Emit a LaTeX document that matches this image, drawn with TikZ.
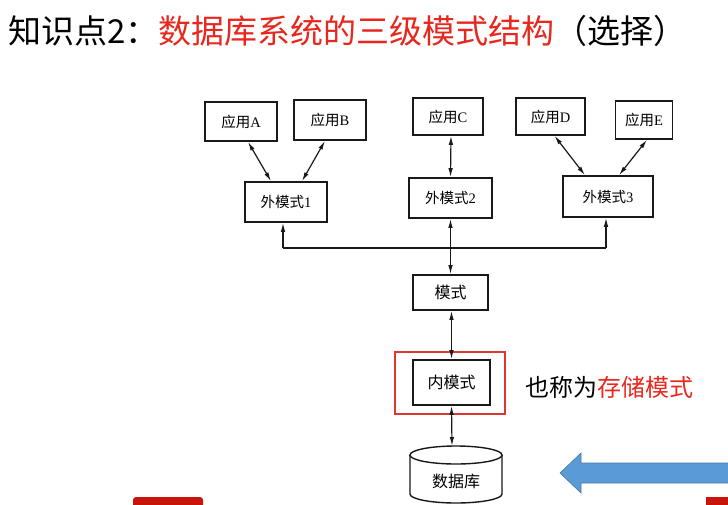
\documentclass[tikz,border=0pt]{standalone}
\usepackage{fontspec}
\setmainfont{Liberation Serif}
\newfontfamily\cjk{Noto Sans CJK SC}
\usetikzlibrary{arrows.meta}
\definecolor{titlered}{RGB}{232,40,30}
\definecolor{boxred}{RGB}{222,55,50}
\definecolor{arrowblue}{RGB}{91,155,213}
\definecolor{arrowedge}{RGB}{70,120,170}
\definecolor{barred}{RGB}{200,20,10}
\definecolor{ink}{RGB}{25,25,25}
\begin{document}
\begin{tikzpicture}[x=1pt,y=-1pt,
  box/.style={draw=ink,line width=1.6pt,inner sep=0pt,font=\fontsize{14.5}{16}\selectfont},
  lbox/.style={box,font=\fontsize{16}{18}\selectfont},
  link/.style={draw=ink,line width=1.2pt,{Latex[length=9pt,width=4.5pt]}-{Latex[length=9pt,width=4.5pt]}},
  upline/.style={draw=ink,line width=1.2pt,-{Latex[length=9pt,width=4.5pt]}},
  plain/.style={draw=ink,line width=1.2pt}
]
\useasboundingbox (0,0) rectangle (728,504);
\fill[white] (0,0) rectangle (728,504);

% title
\node[anchor=west,inner sep=0pt,font=\cjk\fontsize{33}{36}\selectfont] (title) at (8,31)
  {知识点2：\textcolor{titlered}{数据库系统的三级模式结构}（选择）};

% applications
\node[box,minimum width=72pt,minimum height=39pt] (a) at (241,121.5) {{\cjk 应用}A};
\node[box,minimum width=72pt,minimum height=40pt] (b) at (330,120) {{\cjk 应用}B};
\node[box,minimum width=70pt,minimum height=37pt] (c) at (448,116.5) {{\cjk 应用}C};
\node[box,minimum width=69pt,minimum height=37pt] (d) at (550.5,116.5) {{\cjk 应用}D};
\node[box,minimum width=57pt,minimum height=38pt] (e) at (644,120) {{\cjk 应用}E};

% external schemas
\node[box,minimum width=82pt,minimum height=40pt] (w1) at (286,202) {{\cjk 外模式}1};
\node[box,minimum width=83pt,minimum height=40pt] (w2) at (450.5,198) {{\cjk 外模式}2};
\node[box,minimum width=90pt,minimum height=41pt] (w3) at (608,196.5) {{\cjk 外模式}3};

% schema, internal schema
\node[lbox,minimum width=75pt,minimum height=35pt] (m) at (450.5,292.5) {{\cjk 模式}};
\node[draw=boxred,line width=1.5pt,minimum width=110pt,minimum height=62pt,inner sep=0pt] (hl) at (450,383) {};
\node[lbox,minimum width=77pt,minimum height=45pt] (nm) at (451.5,382.5) {{\cjk 内模式}};

% database cylinder
\draw[ink,line width=1.4pt,fill=white] (410,455) -- (410,494)
  arc[start angle=180,end angle=0,x radius=46,y radius=9] -- (502,455);
\draw[ink,line width=1.4pt,fill=white] (456,455) ellipse [x radius=46,y radius=9];
\coordinate (dbtop) at (452,446);
\node[inner sep=0pt,font=\cjk\fontsize{16}{18}\selectfont] (db) at (456,481) {数据库};

% connectors
\draw[link] ([xshift=7pt]a.south) -- ([xshift=-15pt]w1.north);
\draw[link] ([xshift=-5pt]b.south) -- ([xshift=16pt]w1.north);
\draw[link] ([xshift=3pt]c.south) -- (w2.north);
\draw[link] ([xshift=4pt]d.south) -- ([xshift=-23pt]w3.north);
\draw[link] ([xshift=3pt]e.south) -- ([xshift=11pt]w3.north);

\coordinate (busL) at (283,248);
\coordinate (busR) at (606,248);
\draw[plain] (busL) -- (busR);
\draw[upline] (busL) -- (busL |- w1.south);
\draw[upline] (busR) -- (busR |- w3.south);
\draw[link] (w2.south) -- (m.north);
\draw[link] ([xshift=1pt]m.south) -- (nm.north);
\draw[link] (nm.south) -- (dbtop);

% side note
\node[anchor=west,inner sep=0pt,font=\cjk\fontsize{24}{26}\selectfont] (note) at (525,387)
  {也称为\textcolor{titlered}{存储模式}};

% blue arrow
\filldraw[fill=arrowblue,draw=arrowedge,line width=0.6pt]
  (560,473) -- (581,453) -- (581,463) -- (729,463) -- (729,483) -- (581,483) -- (581,493) -- cycle;

% red bars at the bottom
\fill[barred] (133,505) {[rounded corners=3pt] -- (133,497) -- (203,497)} -- (203,505) -- cycle;
\fill[barred] (706,505) -- (706,497) -- (729,497) -- (729,505) -- cycle;
\end{tikzpicture}
\end{document}
